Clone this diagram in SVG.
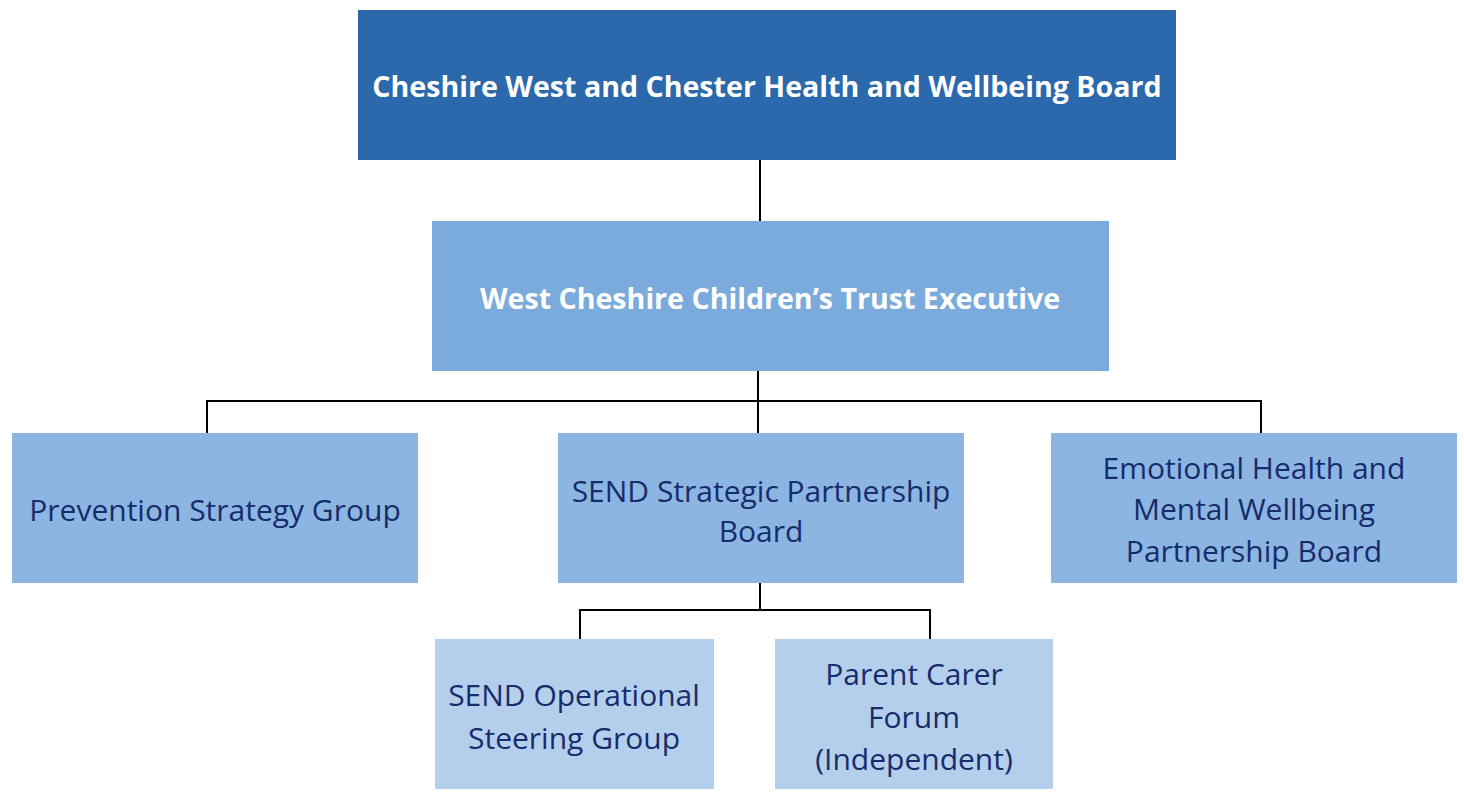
<svg xmlns="http://www.w3.org/2000/svg" width="1464" height="794" viewBox="0 0 1464 794">
<style>
.t{font-family:"Open Sans","Noto Sans",sans-serif;text-anchor:middle;dominant-baseline:central}
.w{fill:#ffffff;font-weight:bold;font-size:28.6px}
.d{fill:#172c6a;font-size:30px}
.ln{stroke:#000000;stroke-width:2;fill:none}
</style>
<rect width="1464" height="794" fill="#ffffff"/>
<g id="connectors">
<path class="ln" d="M760 160V221"/>
<path class="ln" d="M758 371V433M207 433V401H1261V433"/>
<path class="ln" d="M760 583V610M580 639V610H930V639"/>
</g>
<g id="hwb">
<rect x="358" y="10" width="818" height="150" fill="#2b68ac"/>
<text class="t w" x="767" y="85">Cheshire West and Chester Health and Wellbeing Board</text>
</g>
<g id="trust">
<rect x="432" y="221" width="677" height="150" fill="#7baadc"/>
<text class="t w" x="770" y="297">West Cheshire Children’s Trust Executive</text>
</g>
<g id="prevention">
<rect x="12" y="433" width="406" height="150" fill="#8db5e2"/>
<text class="t d" x="215" y="509">Prevention Strategy Group</text>
</g>
<g id="send">
<rect x="558" y="433" width="406" height="150" fill="#8db5e2"/>
<text class="t d" x="761" y="490">SEND Strategic Partnership</text>
<text class="t d" x="761" y="530">Board</text>
</g>
<g id="emotional">
<rect x="1051" y="433" width="406" height="150" fill="#8db5e2"/>
<text class="t d" x="1254" y="467">Emotional Health and</text>
<text class="t d" x="1254" y="508">Mental Wellbeing</text>
<text class="t d" x="1254" y="550">Partnership Board</text>
</g>
<g id="operational">
<rect x="435" y="639" width="279" height="150" fill="#b4cfec"/>
<text class="t d" x="574" y="694">SEND Operational</text>
<text class="t d" x="574" y="737">Steering Group</text>
</g>
<g id="parent">
<rect x="775" y="639" width="278" height="150" fill="#b4cfec"/>
<text class="t d" x="914" y="673">Parent Carer</text>
<text class="t d" x="914" y="716">Forum</text>
<text class="t d" x="914" y="758">(Independent)</text>
</g>
</svg>
